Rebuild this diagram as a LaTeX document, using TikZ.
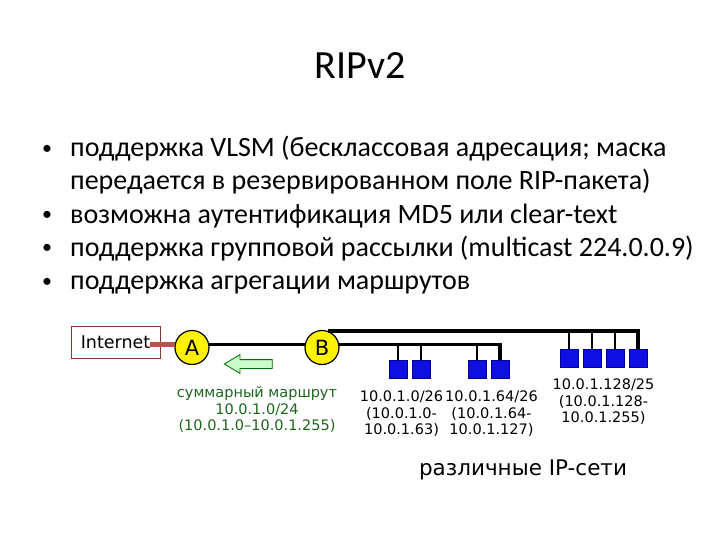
\documentclass[tikz,border=0pt]{standalone}
\usepackage{fontspec}
\setmainfont{Carlito}
\newfontfamily\dejavu{DejaVu Sans}
\usepackage{tikz}
\usetikzlibrary{positioning,calc,shapes.arrows}
\definecolor{inetred}{RGB}{192,80,77}
\definecolor{sumgreen}{RGB}{30,100,30}
\definecolor{sumfill}{RGB}{204,250,204}
\definecolor{hostblue}{RGB}{15,15,225}
\tikzstyle{bul} = [anchor=base west, inner sep=0pt, font=\fontsize{28}{33}\selectfont]
\tikzstyle{dot} = [anchor=base, inner sep=0pt, font=\fontsize{20}{20}\selectfont]
\tikzstyle{router} = [circle, draw=black, line width=1.2pt, fill=yellow, minimum size=34pt, inner sep=0pt, font=\dejavu\fontsize{21}{21}\selectfont]
\tikzstyle{host} = [rectangle, draw=blue!60!black, line width=0.6pt, fill=hostblue, minimum size=18pt, inner sep=0pt]
\tikzstyle{bus} = [line width=3.2pt, black]
\tikzstyle{drop} = [line width=2.5pt, black]
\tikzstyle{netlbl} = [anchor=north, inner sep=0pt, align=center, font=\dejavu\fontsize{14.5}{16.8}\selectfont]
\tikzstyle{sumarrow} = [single arrow, draw=green!45!black, fill=sumfill, line width=0.8pt, minimum height=48pt, minimum width=0pt, inner xsep=0pt, inner ysep=4pt, single arrow head extend=5pt, single arrow tip angle=62, shape border rotate=180]

\begin{document}
\begin{tikzpicture}[x=1pt, y=-1pt]
        \useasboundingbox (0,0) rectangle (720,540);
        \node[anchor=base, inner sep=0pt, font=\fontsize{40}{40}\selectfont] (title) at (360,79) {RIPv2};
        \node[dot] (d1) at (47,155) {•};
        \node[bul] (t1) at (70,157) {поддержка VLSM (бесклассовая адресация; маска};
        \node[bul] (t2) at (70,190) {передается в резервированном поле RIP-пакета)};
        \node[dot] (d3) at (47,221) {•};
        \node[bul] (t3) at (70,223) {возможна аутентификация MD5 или clear-text};
        \node[dot] (d4) at (47,254) {•};
        \node[bul] (t4) at (70,256) {поддержка групповой рассылки (multicast 224.0.0.9)};
        \node[dot] (d5) at (47,287) {•};
        \node[bul] (t5) at (70,289) {поддержка агрегации маршрутов};

        \node[draw=inetred!70!black, line width=0.6pt, minimum width=89pt, minimum height=32pt, inner sep=0pt, font=\dejavu\fontsize{17.5}{17.5}\selectfont] (inet) at (115.5,342) {Internet};
        \node[router] (A) at (192,347.5) {A};
        \node[router] (B) at (322,347.5) {B};
        \draw[line width=5pt, inetred] ([xshift=-10pt]inet.east |- A.170) -- (A.170);
        \draw[bus] (A.10) -- (B.170);

        \node[host] (h1) at (398,369) {};
        \node[host] (h2) at (421,369) {};
        \node[host] (h3) at (477,369) {};
        \node[host] (h4) at (500,369) {};
        \node[host] (u1) at (569,358) {};
        \node[host] (u2) at (592,358) {};
        \node[host] (u3) at (615,358) {};
        \node[host] (u4) at (638,358) {};
        \draw[bus] (B.10) -| (h4);
        \draw[bus] (B.70) -| (u4);
        \foreach \h in {h1,h2,h3}
            \draw[drop] (\h) -- (\h |- B.10);
        \foreach \h in {u1,u2,u3}
            \draw[drop] (\h) -- (\h |- B.70);

        \node[netlbl] (n1) at ($(h1.south)!0.5!(h2.south)+(-8,12)$) {10.0.1.0/26\\(10.0.1.0-\\10.0.1.63)};
        \node[netlbl] (n2) at ($(h3.south)!0.5!(h4.south)+(3,12)$) {10.0.1.64/26\\(10.0.1.64-\\10.0.1.127)};
        \node[netlbl] (n3) at ($(u2.south)!0.5!(u3.south)+(0,11)$) {10.0.1.128/25\\(10.0.1.128-\\10.0.1.255)};

        \node[sumarrow] (sarr) at (252,364) {};
        \node[netlbl, text=sumgreen] (sum) at (257,386) {суммарный маршрут\\10.0.1.0/24\\(10.0.1.0–10.0.1.255)};
        \node[inner sep=0pt, font=\dejavu\fontsize{21.5}{21.5}\selectfont] (nets) at (523,470) {различные IP-сети};
\end{tikzpicture}
\end{document}
